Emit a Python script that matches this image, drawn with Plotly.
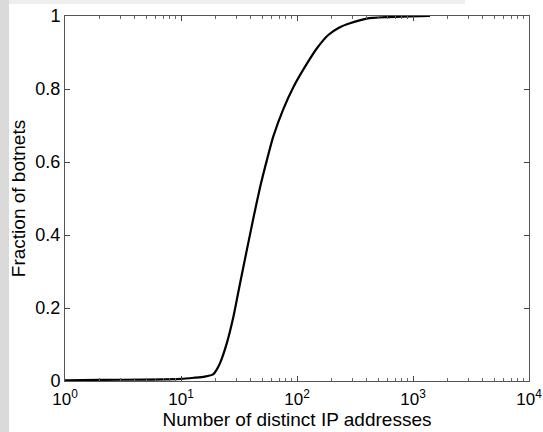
import plotly.graph_objects as go

# CDF data
ip_counts = [1, 2, 5, 10, 13, 16, 18.9, 20.2, 21.7, 24.8, 28.3, 32.3, 37, 42, 48,
             55.5, 62.5, 76.2, 93, 121, 148, 186, 230, 286, 399, 600, 942, 1400]
fraction = [0.002, 0.003, 0.004, 0.006, 0.009, 0.012, 0.018, 0.03, 0.049, 0.103,
            0.176, 0.268, 0.36, 0.445, 0.53, 0.61, 0.67, 0.745, 0.805, 0.868,
            0.911, 0.948, 0.968, 0.980, 0.993, 0.997, 0.999, 1.0]

x_tickvals = [1, 10, 100, 1000, 10000]
x_ticktext = ["10<sup>0</sup>", "10<sup>1</sup>", "10<sup>2</sup>", "10<sup>3</sup>", "10<sup>4</sup>"]
x_minor = [m * 10 ** k for k in range(4) for m in range(2, 10)]
y_tickvals = [0, 0.2, 0.4, 0.6, 0.8, 1]
y_ticktext = ["0", "0.2", "0.4", "0.6", "0.8", "1"]

fig = go.Figure()
fig.add_trace(go.Scatter(x=ip_counts, y=fraction, mode="lines",
                         line=dict(color="black", width=2.2, shape="spline", smoothing=0.6),
                         showlegend=False))

W, H = 543, 432
ml, mr, mt, mb = 65, 14, 16, 51
pw, ph = W - ml - mr, H - mt - mb

fig.update_layout(
    width=W, height=H,
    margin=dict(l=ml, r=mr, t=mt, b=mb, pad=0, autoexpand=False),
    paper_bgcolor="white", plot_bgcolor="white",
    font=dict(family="Liberation Sans, Arial, sans-serif", color="black", size=17),
    xaxis=dict(type="log", range=[0, 4], tickmode="array", tickvals=x_tickvals,
               ticktext=x_ticktext, ticks="inside", ticklen=5, tickcolor="#444",
               showline=True, linecolor="#555", linewidth=1, mirror="allticks",
               showgrid=False, zeroline=False, ticklabelstandoff=3, automargin=False,
               tickfont=dict(size=17),
               minor=dict(tickmode="array", tickvals=x_minor, ticks="inside",
                          ticklen=3, tickcolor="#666", showgrid=False),
               title=dict(text="Number of distinct IP addresses", font=dict(size=19),
                          standoff=0)),
    yaxis=dict(range=[0, 1], tickmode="array", tickvals=y_tickvals, ticktext=y_ticktext,
               ticks="inside", ticklen=5, tickcolor="#444",
               showline=True, linecolor="#555", linewidth=1, mirror="allticks",
               showgrid=False, zeroline=False, tickfont=dict(size=18), automargin=False,
               title=dict(text="Fraction of botnets", font=dict(size=19), standoff=4)),
    shapes=[
        dict(type="rect", xref="paper", yref="paper", layer="below",
             x0=-ml / pw, x1=(9 - ml) / pw, y0=-mb / ph, y1=(H - mb) / ph,
             fillcolor="#dadada", line=dict(width=0)),
        dict(type="rect", xref="paper", yref="paper", layer="below",
             x0=(9 - ml) / pw, x1=(465 - ml) / pw, y0=(H - mb - 4) / ph, y1=(H - mb) / ph,
             fillcolor="#eeeeee", line=dict(width=0)),
    ],
)

fig.write_html("out.html")
